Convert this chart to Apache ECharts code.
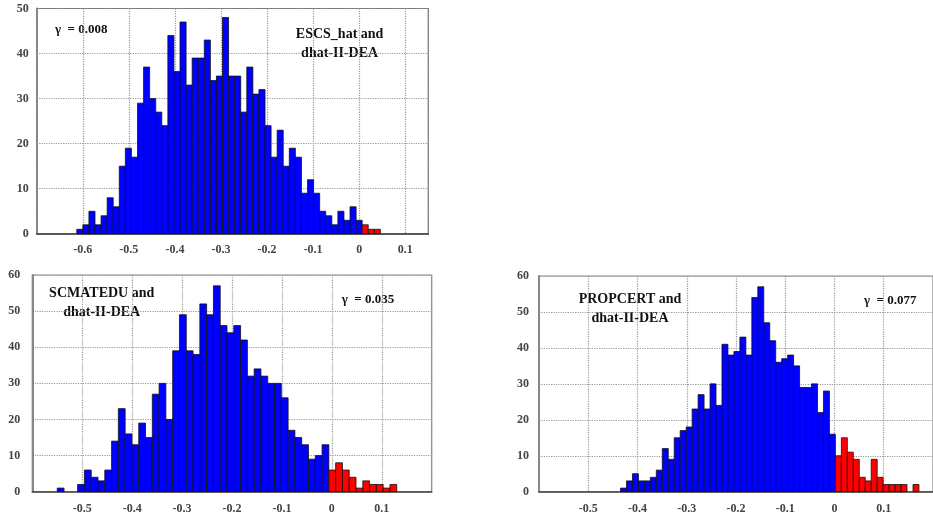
<!DOCTYPE html>
<html>
<head>
<meta charset="utf-8">
<script src="https://cdn.jsdelivr.net/npm/echarts@6/dist/echarts.min.js"></script>
<style>
html,body{margin:0;padding:0;background:#fff;}
#chart{width:933px;height:517px;}
</style>
</head>
<body>
<div id="chart"></div>
<script>
// ---- Data ----
// Histogram 1: ESCS_hat and dhat-II-DEA
const escsBinStart = -0.613;
const escsBinWidth = 0.01318;
const escsBlue = [1,2,5,2,4,8,6,15,19,17,29,37,30,27,24,44,36,47,33,39,39,43,34,35,48,35,35,27,37,31,32,24,17,23,15,19,17,9,12,9,5,4,2,5,3,6,3];
const escsRed = [2,1,1];
// Histogram 2: SCMATEDU and dhat-II-DEA
const scmBinStart = -0.55;
const scmBinWidth = 0.0136;
const scmBlue = [1,0,0,2,6,4,3,6,14,23,16,13,19,15,27,30,20,39,49,39,38,52,49,57,46,44,46,42,32,34,32,30,30,26,17,15,13,9,10,13];
const scmRed = [6,8,6,4,1,3,2,2,1,2];
// Histogram 3: PROPCERT and dhat-II-DEA
const propBinStart = -0.4345;
const propBinWidth = 0.01212;
const propBlue = [1,3,5,3,3,4,6,12,9,15,17,18,23,27,23,30,24,41,38,39,43,38,54,57,47,42,36,37,38,35,29,29,30,22,28,16];
const propRed = [10,15,11,9,4,3,9,4,2,2,2,2,0,2];
// Axis settings / labels
const xTicks1 = {min: -0.7, max: 0.15, interval: 0.1};
const xTicks2 = {min: -0.6, max: 0.2, interval: 0.1};
const yMax1 = 50, yMax2 = 60, yInterval = 10;
const titles = [["ESCS_hat and","dhat-II-DEA"],["SCMATEDU and","dhat-II-DEA"],["PROPCERT and","dhat-II-DEA"]];
const gammas = ["γ  = 0.008","γ  = 0.035","γ  = 0.077"];

// ---- Build ----
function bins(start, width, counts, offset){
  return counts.map((c,i)=>{
    const k = i + offset;
    return [start + k*width, start + (k+1)*width, c];
  });
}
const FONT = '"Liberation Serif", "DejaVu Serif", serif';
const BLUE = '#0000ff', RED = '#ff0000';

function renderBar(params, api){
  const c = api.value(2);
  if (!c) return;
  const p0 = api.coord([api.value(0), c]);
  const p1 = api.coord([api.value(1), 0]);
  return {
    type:'rect',
    shape:{x:p0[0], y:p0[1], width:p1[0]-p0[0], height:p1[1]-p0[1]},
    style:{fill: api.visual('color'), stroke:'#111', lineWidth:0.8}
  };
}

const grids = [
  {left:36.7, top:8.5, width:391.6, height:225.3},
  {left:32.3, top:275, width:399.4, height:216.7},
  {left:539, top:276, width:403.2, height:215.7}
];
const gridBorders = ['#666','#888','#888'];

function xAxis(i, t, margin){
  return {
    type:'value', gridIndex:i, min:t.min, max:t.max, interval:t.interval,
    axisLine:{show:true, onZero:false, lineStyle:{color:'#444', width:1.5}},
    axisTick:{show:false},
    axisLabel:{showMinLabel:false, showMaxLabel:false, margin:margin,
      fontFamily:FONT, fontSize:12, fontWeight:'bold', color:'#444',
      formatter:v=>String(Math.round(v*10)/10)},
    splitLine:{show:true, lineStyle:{color:'#999', type:'dotted', width:1.2}}
  };
}
function yAxis(i, max, margin){
  return {
    type:'value', gridIndex:i, min:0, max:max, interval:yInterval,
    axisLine:{show:true, onZero:false, lineStyle:{color:'#888', width:2}},
    axisTick:{show:false},
    axisLabel:{margin:margin, fontFamily:FONT, fontSize:12, fontWeight:'bold', color:'#444'},
    splitLine:{show:true, lineStyle:{color:'#999', type:'dotted', width:1.2}}
  };
}

function series(idx, data, color){
  return {
    type:'custom', xAxisIndex:idx, yAxisIndex:idx,
    renderItem:renderBar, data:data,
    encode:{x:[0,1], y:2},
    itemStyle:{color:color}
  };
}

function textEl(str, x, y, align){
  return {type:'text', x:x, y:y, style:{
    text:str, x:0, y:0, fill:'#111', font:'bold 14px ' + FONT,
    textAlign:align, textVerticalAlign:'middle'}};
}
function gammaEl(str, x, y){
  return {type:'text', x:x, y:y, style:{
    text:str, x:0, y:0, fill:'#111', font:'bold 13px ' + FONT,
    textAlign:'left', textVerticalAlign:'middle'}};
}

const option = {
  backgroundColor:'#fff',
  animation:false,
  grid: grids.map((g,i)=>Object.assign({show:true, borderColor:gridBorders[i], borderWidth:1.2, backgroundColor:'transparent'}, g)),
  xAxis:[xAxis(0,xTicks1,10), xAxis(1,xTicks2,11), xAxis(2,xTicks2,11)],
  yAxis:[yAxis(0,yMax1,8), yAxis(1,yMax2,12), yAxis(2,yMax2,10)],
  series:[
    series(0, bins(escsBinStart, escsBinWidth, escsBlue, 0), BLUE),
    series(0, bins(escsBinStart, escsBinWidth, escsRed, escsBlue.length), RED),
    series(1, bins(scmBinStart, scmBinWidth, scmBlue, 0), BLUE),
    series(1, bins(scmBinStart, scmBinWidth, scmRed, scmBlue.length), RED),
    series(2, bins(propBinStart, propBinWidth, propBlue, 0), BLUE),
    series(2, bins(propBinStart, propBinWidth, propRed, propBlue.length), RED)
  ],
  graphic:[
    textEl(titles[0][0], 339.6, 34.5, 'center'),
    textEl(titles[0][1], 339.6, 53.5, 'center'),
    gammaEl(gammas[0], 55, 30),
    textEl(titles[1][0], 101.7, 293.5, 'center'),
    textEl(titles[1][1], 101.7, 312.5, 'center'),
    gammaEl(gammas[1], 341.7, 299.5),
    textEl(titles[2][0], 630, 299.5, 'center'),
    textEl(titles[2][1], 630, 318.5, 'center'),
    gammaEl(gammas[2], 864, 300.5)
  ]
};
const chart = echarts.init(document.getElementById('chart'), null, {renderer:'canvas'});
chart.setOption(option);
</script>
</body>
</html>
